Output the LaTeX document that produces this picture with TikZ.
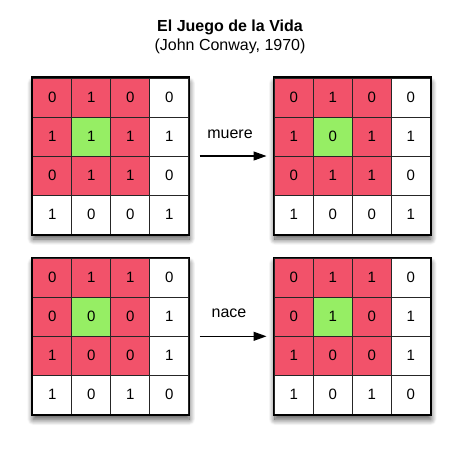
\documentclass[tikz,border=0pt]{standalone}
\usepackage{fontspec}
\setmainfont{Liberation Sans}
\usetikzlibrary{arrows.meta,shadows.blur}
\definecolor{cellred}{RGB}{242,82,106}
\definecolor{cellgreen}{RGB}{150,238,100}
\tikzset{
  frame/.style={draw=black, line width=1.6pt, minimum size=156pt, inner sep=0pt, fill=white,
    blur shadow={shadow xshift=0.5pt, shadow yshift=-5pt, shadow blur radius=6pt, shadow blur steps=14, shadow opacity=70}},
  frameline/.style={draw=black, line width=1.6pt},
  cell/.style={draw=black!85, line width=0.8pt, minimum size=39pt, inner sep=0pt, font=\fontsize{15}{18}\selectfont},
  lbl/.style={font=\fontsize{16}{19}\selectfont},
  flow/.style={line width=1.2pt, -{Triangle[length=13pt,width=9pt]}, shorten <=10pt, shorten >=7pt},
}
\newcommand\lifegrid[4]{% name, x, y, values
  \node[frame] (#1) at (#2+78,#3+78) {};
  \foreach \v [count=\i from 0] in {#4} {
    \pgfmathtruncatemacro\rr{\i/4}
    \pgfmathtruncatemacro\cc{mod(\i,4)}
    \def\col{white}
    \ifnum\rr<3 \ifnum\cc<3 \def\col{cellred}\fi\fi
    \ifnum\rr=1 \ifnum\cc=1 \def\col{cellgreen}\fi\fi
    \node[cell, fill=\col] (#1-\rr-\cc) at (#2+19.5+39*\cc, #3+19.5+39*\rr) {\v};
  }
  \draw[frameline] (#1.north west) rectangle (#1.south east);
}
\begin{document}
\begin{tikzpicture}[x=1pt,y=-1pt]
\useasboundingbox (0,0) rectangle (460,451);
\node[font=\bfseries\fontsize{16}{19}\selectfont, anchor=base] (title) at (230,31.5) {El Juego de la Vida};
\node[lbl, anchor=base] (subtitle) at (230,50.5) {(John Conway, 1970)};
\lifegrid{g1}{32.7}{78}{0,1,0,0,1,1,1,1,0,1,1,0,1,0,0,1}
\lifegrid{g2}{274.3}{78}{0,1,0,0,1,0,1,1,0,1,1,0,1,0,0,1}
\lifegrid{g3}{32.7}{258.3}{0,1,1,0,0,0,0,1,1,0,0,1,1,0,1,0}
\lifegrid{g4}{274.3}{258.3}{0,1,1,0,0,1,0,1,1,0,0,1,1,0,1,0}
\draw[flow] (g1.east) -- (g2.west);
\draw[flow] (g3.east) -- (g4.west);
\node[lbl] (muere) at (230,134) {muere};
\node[lbl] (nace) at (229,313) {nace};
\end{tikzpicture}
\end{document}
